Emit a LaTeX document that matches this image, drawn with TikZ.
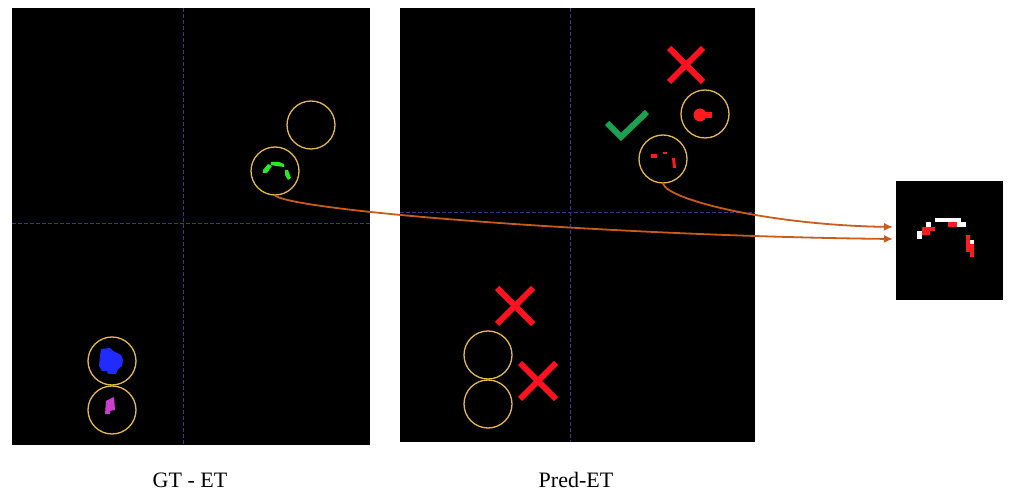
\documentclass[tikz,border=0pt]{standalone}
\usepackage{fontspec}
\setmainfont{Liberation Serif}
\usetikzlibrary{arrows.meta}
\definecolor{roigold}{RGB}{228,186,78}
\definecolor{axisblue}{RGB}{58,56,140}
\definecolor{xred}{RGB}{255,18,32}
\definecolor{okgreen}{RGB}{28,160,82}
\definecolor{linkorange}{RGB}{200,92,24}
\definecolor{segblue}{RGB}{32,44,255}
\definecolor{segpink}{RGB}{200,64,205}
\definecolor{seggreen}{RGB}{40,232,40}
\definecolor{segred}{RGB}{255,28,28}
\begin{document}
\begin{tikzpicture}[x=1pt, y=-1pt,
    roi/.style={circle, draw=roigold, line width=1.3pt, minimum size=48pt, inner sep=0pt},
    axisline/.style={draw=axisblue, line width=0.7pt, dash pattern=on 4pt off 2pt},
    wrong/.style={draw=xred, line width=6pt},
    link/.style={draw=linkorange, line width=1.8pt, -{Latex[length=9pt,width=8pt]}},
    caption/.style={font=\fontsize{22}{26}\selectfont}]
\useasboundingbox [fill=white] (0,0) rectangle (1023,502);
% panels
\fill [black] (12,8) rectangle (370,445);
\fill [black] (400,8) rectangle (755,442);
\fill [black] (896,181) rectangle (1003,300);
\draw [axisline] (183,8) -- (183,445);
\draw [axisline] (12,223) -- (370,223);
\draw [axisline] (570,8) -- (570,442);
\draw [axisline] (400,212) -- (755,212);
% GT - ET segments
\fill [seggreen] (263,170) -- (268,164) -- (272,166) -- (267,173) -- (263,173) -- cycle;
\fill [seggreen] (271,162) -- (279,162) -- (284,164) -- (284,167) -- (276,166) -- (271,165) -- cycle;
\fill [seggreen] (285,170) -- (288,170) -- (291,178) -- (288,180) -- (285,175) -- cycle;
\fill [segblue] (101,349) -- (110,348) -- (113,351) -- (121,355) -- (123,360) -- (122,366)
               -- (118,369) -- (116,374) -- (108,374) -- (107,371) -- (102,371)
               -- (99,366) -- (100,356) -- cycle;
\fill [segpink] (106,401) -- (114,397) -- (115,410) -- (110,411) -- (110,414) -- (105,414) -- cycle;
% Pred-ET segments
\fill [segred] (700,115) circle (6.5);
\fill [segred] (704,112) rectangle (712,118);
\fill [segred] (651,154) rectangle (657,158);
\fill [segred] (663,152) rectangle (667,154);
\fill [segred] (672,158) -- (675,158) -- (676,168) -- (673,168) -- cycle;
% zoomed patch
\fill [white] (935,218) rectangle (961,222);
\fill [segred] (948,222) rectangle (957,227);
\fill [white] (957,222) rectangle (966,227);
\fill [white] (926,222) rectangle (931,227);
\fill [segred] (922,227) rectangle (935,231);
\fill [segred] (922,231) rectangle (930,235);
\fill [white] (917,231) rectangle (922,239);
\fill [segred] (966,235) rectangle (970,252);
\fill [white] (970,240) rectangle (974,244);
\fill [segred] (970,244) rectangle (974,257);
% regions of interest
\node [roi] (gtA) at (311,125) {};
\node [roi] (gtB) at (275,171) {};
\node [roi] (gtC) at (112,361) {};
\node [roi] (gtD) at (112,410) {};
\node [roi] (prA) at (705,114) {};
\node [roi] (prB) at (663,159) {};
\node [roi] (prC) at (488,355) {};
\node [roi] (prD) at (488,404) {};
% marks
\draw [wrong] (669,48) -- (703,82);
\draw [wrong] (669,82) -- (703,48);
\draw [wrong] (497,288) -- (533,324);
\draw [wrong] (497,324) -- (533,288);
\draw [wrong] (520,363) -- (556,399);
\draw [wrong] (520,399) -- (556,363);
\draw [draw=okgreen, line width=6pt] (607,123) -- (621,137) -- (647,112);
% links
\coordinate (endA) at (893,227);
\coordinate (endB) at (893,239);
\draw [link] (gtB.south) .. controls (300,212) and (620,236) .. (endB);
\draw [link] (prB.south) .. controls (668,200) and (770,225) .. (endA);
% captions
\node [caption] (gtlabel) at (190,480) {GT - ET};
\node [caption] (prlabel) at (576,480) {Pred-ET};
\end{tikzpicture}
\end{document}
